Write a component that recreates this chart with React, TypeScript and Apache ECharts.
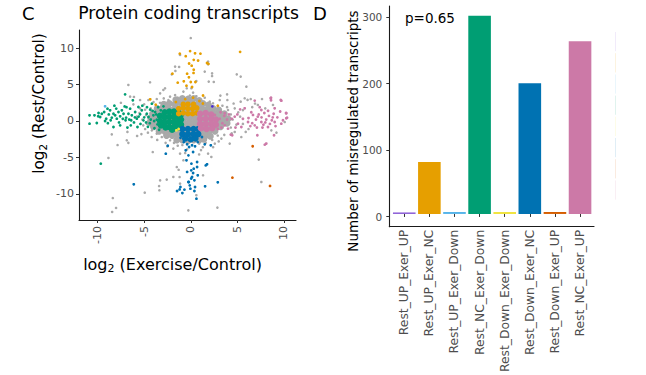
import React, { useEffect, useRef } from "react";
import * as echarts from "echarts";

// ---------- Panel C data: log2(Exercise/Control) vs log2(Rest/Control) ----------
const xTicksC = [-10, -5, 0, 5, 10];
const yTicksC = [-10, -5, 0, 5, 10];

// dense, heavily overlapping region of unchanged transcripts
const grayCore: [number, number][] = [
  [-1.6, 2.9], [-0.9, 3.1], [-0.3, 3.0], [0.3, 3.1], [0.9, 2.8],
  [-2.9, 2.3], [-2.3, 2.4], [-1.7, 2.3], [-1.1, 2.5], [-0.5, 2.4], [0.1, 2.5], [0.7, 2.3], [1.3, 2.4], [1.9, 2.2],
  [-3.6, 1.7], [-3.0, 1.8], [-2.4, 1.7], [-1.8, 1.6], [-1.2, 1.7], [-0.6, 1.6], [0, 1.7], [0.6, 1.6], [1.2, 1.7], [1.8, 1.6], [2.4, 1.7], [3.0, 1.5],
  [-4.1, 1.0], [-3.5, 1.1], [-2.9, 1.0], [-2.3, 1.0], [-1.7, 1.1], [-1.1, 1.0], [-0.5, 1.0], [0.1, 1.1], [0.7, 1.0], [1.3, 1.0], [1.9, 1.1], [2.5, 1.0], [3.1, 0.9], [3.6, 1.0],
  [-4.3, 0.4], [-3.7, 0.4], [-3.1, 0.4], [-2.5, 0.4], [-1.9, 0.4], [-1.3, 0.4], [-0.7, 0.4], [-0.1, 0.4], [0.5, 0.4], [1.1, 0.4], [1.7, 0.4], [2.3, 0.4], [2.9, 0.4], [3.5, 0.4], [4.0, 0.3],
  [-4.4, -0.2], [-3.8, -0.2], [-3.2, -0.2], [-2.6, -0.2], [-2.0, -0.2], [-1.4, -0.2], [-0.8, -0.2], [-0.2, -0.2], [0.4, -0.2], [1.0, -0.2], [1.6, -0.2], [2.2, -0.2], [2.8, -0.2], [3.4, -0.2], [3.9, -0.3],
  [-4.0, -0.8], [-3.4, -0.8], [-2.8, -0.8], [-2.2, -0.8], [-1.6, -0.8], [-1.0, -0.8], [-0.4, -0.8], [0.2, -0.8], [0.8, -0.8], [1.4, -0.8], [2.0, -0.8], [2.6, -0.8], [3.2, -0.8],
  [-3.4, -1.4], [-2.8, -1.4], [-2.2, -1.4], [-1.6, -1.4], [-1.0, -1.4], [-0.4, -1.4], [0.2, -1.4], [0.8, -1.4], [1.4, -1.4], [2.0, -1.4], [2.6, -1.4],
  [-2.6, -2.0], [-2.0, -2.0], [-1.4, -2.0], [-0.8, -2.0], [-0.2, -2.0], [0.4, -2.0], [1.0, -2.0], [1.6, -2.0], [2.1, -2.1],
  [-1.5, -2.6], [-0.9, -2.6], [-0.3, -2.7], [0.3, -2.6], [0.9, -2.6], [1.4, -2.5],
];

const graySparse: [number, number][] = [
  [0, 11.4], [-1.15, 9.07], [-1.68, 7.47], [-2.04, 6.41], [-4.37, 5.32], [-6.7, 4.95], [-6.51, 3.35], [-6.1, 3.3],
  [-5.44, 2.88], [-4.55, 2.88], [-3.65, 3.02], [-2.94, 4.26], [-2.76, 4.49], [-3.29, 3.8], [-2.4, 2.88], [-2.22, 3.35],
  [-1.68, 3.57], [-1.4, 3.2], [-0.79, 4.04], [-0.43, 4.49], [-5.44, 1.74], [-4.9, 1.55], [-4.3, 1.74], [-3.65, 1.29],
  [-6.16, 2.29], [1.86, 8.16], [1.86, 7.79], [1.5, 6.79], [2.29, 6.55], [2.29, 6.18], [0.6, 5.49], [1.93, 5.41],
  [4.94, 6.41], [5.36, 6.1], [5.97, 4.72], [3.18, 3.49], [3.11, 2.88], [2.04, 2.66], [2.39, 2.43], [3.93, 2.88],
  [5.36, 2.66], [5.79, 3.12], [6.1, 2.9], [6.44, 3.02], [7.65, 3.02], [8.0, 1.74], [8.83, 2.2], [4.72, 1.74],
  [4.0, 1.51], [3.4, 2.1], [4.3, 0.9], [0.07, 4.49], [0.25, 3.9], [-0.1, 3.5], [0.6, 3.4], [-1.25, 7.42],
  [-1.65, 6.87], [2.47, 5.36], [3.9, 3.66], [-8.48, -1.83], [-6.87, -2.65], [-6.7, -3.0], [-8.84, -5.08], [-4.08, -4.26],
  [-3.29, -8.15], [-3.4, -8.93], [-3.37, -9.52], [-2.58, -8.05], [-4.94, -9.84], [-8.37, -10.58], [-8.02, -11.95], [-8.44, -12.5],
  [-1.5, -6.32], [-1.3, -6.7], [-1.87, -7.69], [-1.2, -7.7], [-1.15, -8.6], [-3.65, -1.73], [-3.11, -2.2], [-2.22, -2.65],
  [-1.87, -3.79], [-1.15, -4.48], [-0.79, -5.4], [-0.26, -12.27], [-4.18, -1.28], [4.18, -3.1], [5.43, -2.2], [7.3, -5.3],
  [7.58, -8.38], [2.86, -11.9], [2.21, -4.94], [1.86, -4.48], [1.32, -7.46], [0.6, -10.2], [3.29, -2.42], [2.9, -2.0],
  [2.58, -3.1], [4.72, -1.51], [5.9, -1.5], [8.65, -1.28], [9.2, -1.6], [10.09, -0.14], [-7.86, -3.3], [-5.76, -2.06],
  [-5.3, -1.8], [-4.6, -1.6], [-2.7, -3.0], [-1.8, -3.0], [1.6, -3.0], [2.3, -2.6], [3.6, -1.9], [1.1, -4.0],
  [-0.9, -3.3], [1.3, -3.6], [-5.8, 0.6], [-5.1, -0.6], [-4.8, 0.8], [-5.5, 1.1], [4.5, 0.2], [4.9, -0.5],
  [5.3, 0.6], [4.3, -0.9], [3.9, 1.9], [5.6, 1.5], [6.6, 1.9], [7.2, 2.2], [-0.4, -3.9], [0.9, -3.1],
  [-5.0, 2.3], [-4.0, 2.6], [-3.3, 2.5], [-5.2, 0.2], [-4.7, -0.4], [-4.9, -1.1], [-4.2, -2.2], [-3.6, -2.6],
  [-2.5, -3.5], [-1.4, -3.4], [4.6, 2.4], [5.1, 1.2], [5.6, -0.4], [6.2, -1.1], [6.9, 2.4], [4.4, -1.7],
  [3.0, -2.8], [2.4, -3.6], [-0.6, -4.4], [0.9, -4.6], [1.5, 3.2], [-2.9, 3.1], [-6.8, -1.5], [-7.5, 2.5],
];

const greenCore: [number, number][] = [
  [-3.3, 0.7], [-3.3, 0.0], [-3.2, -0.6],
  [-2.8, 1.2], [-2.8, 0.5], [-2.8, -0.2], [-2.7, -0.9],
  [-2.3, 1.3], [-2.3, 0.6], [-2.3, -0.1], [-2.3, -0.8],
  [-1.8, 1.3], [-1.8, 0.6], [-1.8, -0.1], [-1.8, -0.8], [-2.0, -1.2],
  [-1.35, 1.2], [-1.35, 0.5], [-1.35, -0.2], [-1.35, -0.9],
  [-1.05, 0.9], [-1.05, 0.2], [-1.05, -0.5],
];

const greenSparse: [number, number][] = [
  [-10.87, 0.78], [-10.87, -0.37], [-10.34, 0.78], [-9.94, 0.64], [-10.09, -0.27], [-9.55, 1.0], [-9.73, 0.55], [-9.3, 1.24],
  [-8.94, 1.69], [-8.66, 1.47], [-9.08, 0.32], [-8.3, 1.0], [-8.48, 0.46], [-8.12, 0.78], [-7.76, 1.24], [-7.94, 0.32],
  [-7.58, 0.64], [-7.22, 1.0], [-7.05, 3.66], [-7.4, 1.47], [-6.94, 0.46], [-6.69, 1.0], [-6.51, 1.69], [-6.22, 2.84],
  [-6.33, 0.78], [-5.97, 1.24], [-5.79, 0.32], [-5.62, 1.92], [-5.44, 0.92], [-5.26, 1.47], [-5.08, 0.09], [-5.72, -0.82],
  [-6.44, -0.6], [-7.58, -0.6], [-8.3, -0.82], [-9.66, -5.86], [-4.72, 1.0], [-4.54, 0.55], [-4.36, 1.56], [-4.01, 0.78],
  [-3.83, 1.24], [-3.65, 0.18], [-3.36, 0.78], [-3.22, 1.47], [-3.11, -0.37], [-3.58, -0.46], [-3.93, 0.0], [-4.18, 2.38],
  [-2.93, 2.01], [-7.0, 0.1], [-6.6, 0.2], [-8.8, 0.9], [-9.9, 1.1], [-8.0, 1.7], [-6.9, 1.9], [-7.7, -0.2],
  [-6.1, -0.2], [-5.4, -0.4], [-4.8, -0.2], [-4.3, 0.2], [-4.6, -0.8], [-3.9, -1.0], [-6.0, 0.5], [-8.6, 0.1],
  [-9.2, 0.0], [-8.9, -0.3], [-7.3, 0.3], [-6.4, 0.1], [-5.6, 0.6], [-5.0, 0.5], [-4.4, -0.3], [-3.7, 0.9],
  [-3.5, 1.9], [-4.1, 1.4], [-6.8, -0.9], [-7.1, 2.0], [-8.2, 2.1], [-5.2, 2.1], [-4.7, 1.9], [-3.4, -1.2],
];

const orangeCore: [number, number][] = [
  [-1.3, 1.0], [-1.3, 1.7], [-0.8, 1.1], [-0.8, 1.8], [-0.8, 2.3], [-0.3, 1.0], [-0.3, 1.7], [-0.3, 2.3],
  [0.2, 1.0], [0.2, 1.7], [0.3, 2.3], [0.65, 1.1], [0.65, 1.8],
];

const orangeSparse: [number, number][] = [
  [-1.18, 9.25], [-0.07, 9.6], [0.46, 9.3], [1.04, 9.25], [-0.54, 8.9], [0.32, 8.4], [-0.18, 7.9], [0.79, 8.3],
  [0.32, 7.05], [1.75, 7.97], [1.9, 7.85], [-1.97, 6.5], [-0.39, 6.5], [0.0, 5.36], [0.5, 5.36], [-0.75, 5.45],
  [-1.4, 5.27], [-0.46, 4.85], [0.14, 4.67], [5.3, 9.5], [-4.35, 2.98], [-3.76, 2.24], [1.32, 3.5], [0.93, 2.75],
  [0.25, 3.2], [-0.6, 3.0], [-0.2, 6.0], [0.1, 7.6], [0.3, 6.6], [-1.6, 2.6], [1.3, 2.4], [2.9, 2.1],
];

const blueCore: [number, number][] = [
  [-0.9, -1.1], [-0.3, -1.1], [0.3, -1.1], [0.8, -1.1], [-0.9, -1.8], [-0.3, -1.8], [0.3, -1.8], [0.8, -1.8],
  [-0.6, -2.4], [0.0, -2.5], [0.5, -2.4],
];

const blueSparse: [number, number][] = [
  [-2.47, -3.39], [-0.39, -3.2], [-0.18, -3.57], [0.14, -3.34], [0.46, -3.48], [-0.54, -4.03], [-0.25, -4.72], [0.25, -4.26],
  [-0.46, -5.4], [0.07, -5.86], [0.68, -5.63], [0.32, -6.55], [0.25, -7.14], [0.68, -6.32], [0.14, -7.69], [0.39, -8.15],
  [-0.21, -8.38], [-0.11, -8.84], [-0.04, -9.3], [-0.68, -9.43], [0.39, -9.62], [0.61, -10.67], [1.75, -5.95], [1.61, -6.1],
  [2.9, -8.42], [1.54, -8.97], [-6.12, -8.7], [-1.47, -9.62], [-1.11, -9.07], [-2.68, -4.49], [0.46, -9.07], [-0.39, -7.0],
  [0.75, -7.46], [-0.75, -2.9], [0.75, -2.9], [-1.1, -2.3], [2.15, -3.34], [1.5, -3.2], [0.05, -6.78], [0.05, -7.9],
  [-0.26, -8.38], [-1.2, -9.4], [-0.9, -9.9], [1.2, -2.2],
];

const pinkCore: [number, number][] = [
  [1.0, 1.0], [1.6, 1.1], [2.2, 0.9], [1.0, 0.3], [1.6, 0.3], [2.2, 0.3], [2.7, 0.2], [1.0, -0.4],
  [1.6, -0.4], [2.2, -0.4], [2.7, -0.5], [1.1, -1.0], [1.7, -1.1], [2.3, -1.0],
];

const pinkSparse: [number, number][] = [
  [9.73, 2.79], [8.62, 3.2], [8.62, 2.84], [10.23, 1.1], [10.34, 0.46], [6.87, 2.8], [8.58, 3.12], [9.66, 2.88],
  [5.79, 1.74], [7.58, 1.51], [9.01, 1.74], [10.26, 1.06], [10.26, 0.37], [4.72, 0.6], [3.65, 1.06], [2.58, 0.83],
  [6.68, 0.83], [4.29, -1.87], [4.45, -1.96], [7.15, -1.96], [8.11, -3.1], [7.95, -3.25], [8.94, -1.96], [2.21, -0.6],
  [3.65, -0.6], [4.0, -1.05], [5.07, -0.37], [5.43, -0.82], [6.15, -0.14], [6.87, -0.6], [7.58, -0.14], [8.29, -0.82],
  [9.01, -0.14], [9.72, -0.37], [6.2, 0.4], [6.5, 1.2], [7.0, 0.2], [7.3, 0.9], [7.6, 0.5], [7.9, 1.1],
  [8.1, 0.2], [8.4, 0.7], [8.7, 0.1], [8.9, 1.0], [9.3, 0.5], [9.6, 1.3], [7.1, -0.9], [7.8, -0.5],
  [8.5, -0.4], [6.6, -0.3], [3.1, 0.3], [3.4, -0.3], [3.9, 0.2], [4.4, 0.3], [5.0, 0.9], [5.6, 0.3],
  [3.2, 1.2], [2.9, -1.1], [3.6, 0.7], [4.8, -0.9], [7.2, 0.6], [7.7, -0.9], [8.3, 1.4], [8.0, -0.2],
  [9.1, -0.7], [6.4, -0.7], [7.4, 1.9], [8.8, 0.5], [5.3, 1.6], [4.1, 0.9], [3.3, -0.9], [9.9, 0.1],
];

const vermillionPts: [number, number][] = [[6.65, -3.47], [4.47, -7.78], [8.51, -8.92]];
const yellowPts: [number, number][] = [[-1.54, -1.28], [-1.3, -1.1]];
const skyPts: [number, number][] = [[-9.2, 2.02]];
const purplePts: [number, number][] = [[2.32, 2.01]];

// ---------- Panel D data ----------
const barCategories = [
  "Rest_UP_Exer_UP", "Rest_UP_Exer_NC", "Rest_UP_Exer_Down", "Rest_NC_Exer_Down",
  "Rest_Down_Exer_Down", "Rest_Down_Exer_NC", "Rest_Down_Exer_UP", "Rest_NC_Exer_UP",
];
const barValues = [1, 79, 3, 302, 3, 199, 3, 263];
const yTicksD = [0, 100, 200, 300];

const palette = ["#8A5CD6", "#E69F00", "#56B4E9", "#009E73", "#F0E442", "#0072B2", "#D55E00", "#CC79A7"];
const FONT = "DejaVu Sans";
const GRAY = "#A9A9A9";

export default function App() {
  const ref = useRef<HTMLDivElement>(null);
  useEffect(() => {
    if (!ref.current) return;
    const chart = echarts.init(ref.current, undefined, { renderer: "svg" });
    const sc = (name: string, data: [number, number][], color: string, size: number) => ({
      type: "scatter", name, xAxisIndex: 0, yAxisIndex: 0, data, symbol: "circle", symbolSize: size,
      itemStyle: { color, opacity: 1 }, silent: true,
    });
    const legendStrip = palette.map((c, i) => ({
      type: "line", silent: true,
      shape: { x1: 615.5, y1: 32 + i * 21.2, x2: 615.5, y2: 32 + (i + 1) * 21.2 - 2 },
      style: { stroke: c, opacity: 0.12, lineWidth: 1 },
    }));
    const axisText = { fontFamily: FONT, color: "#4D4D4D" };
    chart.setOption({
      animation: false,
      grid: [
        { left: 79, top: 30, width: 217, height: 190 },
        { left: 389.3, top: 6, width: 204.7, height: 220.7 },
        { left: 391.7, top: 6, width: 200.9, height: 220.7 },
      ],
      xAxis: [
        {
          type: "value", gridIndex: 0, min: -12, max: 11.3, splitLine: { show: false },
          axisLine: { onZero: false, lineStyle: { color: "#1a1a1a", width: 1.1 } },
          axisTick: { show: true, length: 3, customValues: xTicksC, lineStyle: { color: "#333" } },
          axisLabel: { customValues: xTicksC, rotate: 90, fontSize: 11, margin: 6, ...axisText },
        },
        {
          type: "value", gridIndex: 1, min: 0, max: 1, splitLine: { show: false },
          axisLine: { onZero: false, lineStyle: { color: "#1a1a1a", width: 1.1 } },
          axisTick: { show: false }, axisLabel: { show: false },
        },
        {
          type: "category", gridIndex: 2, data: barCategories,
          axisLine: { show: false },
          axisTick: { show: true, length: 3, alignWithLabel: true, lineStyle: { color: "#333" } },
          axisLabel: { rotate: 90, fontSize: 12.3, margin: 6, interval: 0, ...axisText },
        },
      ],
      yAxis: [
        {
          type: "value", gridIndex: 0, min: -13.6, max: 12.5, splitLine: { show: false },
          axisLine: { show: true, onZero: false, lineStyle: { color: "#1a1a1a", width: 1.1 } },
          axisTick: { show: true, length: 3, customValues: yTicksC, lineStyle: { color: "#333" } },
          axisLabel: { customValues: yTicksC, fontSize: 11, margin: 5, ...axisText },
        },
        {
          type: "value", gridIndex: 1, min: -15, max: 316.8, splitLine: { show: false },
          axisLine: { show: true, onZero: false, lineStyle: { color: "#1a1a1a", width: 1.1 } },
          axisTick: { show: true, length: 3, customValues: yTicksD, lineStyle: { color: "#333" } },
          axisLabel: { customValues: yTicksD, fontSize: 10.5, margin: 7, ...axisText },
        },
        {
          type: "value", gridIndex: 2, min: -15, max: 316.8, show: false, splitLine: { show: false },
        },
      ],
      series: [
        sc("grayCore", grayCore, GRAY, 7),
        sc("gray", graySparse, GRAY, 2.6),
        sc("greenCore", greenCore, palette[3], 6.5),
        sc("green", greenSparse, palette[3], 2.8),
        sc("orangeCore", orangeCore, palette[1], 5.5),
        sc("orange", orangeSparse, palette[1], 2.8),
        sc("blueCore", blueCore, palette[5], 6.5),
        sc("blue", blueSparse, palette[5], 2.8),
        sc("pinkCore", pinkCore, palette[7], 6.5),
        sc("pink", pinkSparse, palette[7], 2.8),
        sc("vermillion", vermillionPts, palette[6], 2.8),
        sc("yellow", yellowPts, palette[4], 2.8),
        sc("sky", skyPts, palette[2], 2.8),
        sc("purple", purplePts, "#4B2BD6", 2.8),
        {
          type: "bar", xAxisIndex: 2, yAxisIndex: 2, barWidth: "90%", barMinHeight: 1.5, silent: true,
          data: barValues.map((v, i) => ({ value: v, itemStyle: { color: palette[i] } })),
        },
      ],
      graphic: [
        { type: "text", x: 22, y: 13, style: { text: "C", font: `18px ${FONT}`, fill: "#000", textVerticalAlign: "middle" } },
        { type: "text", x: 313, y: 13, style: { text: "D", font: `18px ${FONT}`, fill: "#000", textVerticalAlign: "middle" } },
        { type: "text", x: 188.5, y: 13, style: { text: "Protein coding transcripts", font: `17.2px ${FONT}`, fill: "#000", textAlign: "center", textVerticalAlign: "middle" } },
        { type: "text", x: 405, y: 18, style: { text: "p=0.65", font: `13.5px ${FONT}`, fill: "#000", textVerticalAlign: "middle" } },
        {
          type: "text", x: 172.5, y: 264,
          style: {
            text: "{a|log}{b|2}{a| (Exercise/Control)}", textAlign: "center", textVerticalAlign: "middle", fill: "#000",
            rich: { a: { fontFamily: FONT, fontSize: 16, fill: "#000" }, b: { fontFamily: FONT, fontSize: 11, padding: [8, 0, 0, 0], fill: "#000" } },
          },
        },
        {
          type: "text", x: 38.5, y: 103.5, rotation: Math.PI / 2,
          style: {
            text: "{a|log}{b|2}{a| (Rest/Control)}", textAlign: "center", textVerticalAlign: "middle", fill: "#000",
            rich: { a: { fontFamily: FONT, fontSize: 15.3, fill: "#000" }, b: { fontFamily: FONT, fontSize: 10.5, padding: [8, 0, 0, 0], fill: "#000" } },
          },
        },
        {
          type: "text", x: 352.5, y: 131, rotation: Math.PI / 2,
          style: { text: "Number of misregulated transcripts", font: `13.5px ${FONT}`, fill: "#000", textAlign: "center", textVerticalAlign: "middle" },
        },
        ...legendStrip,
      ],
    });
    return () => chart.dispose();
  }, []);
  return <div ref={ref} style={{ position: "fixed", left: 0, top: 0, width: 646, height: 375, background: "#fff" }} />;
}
